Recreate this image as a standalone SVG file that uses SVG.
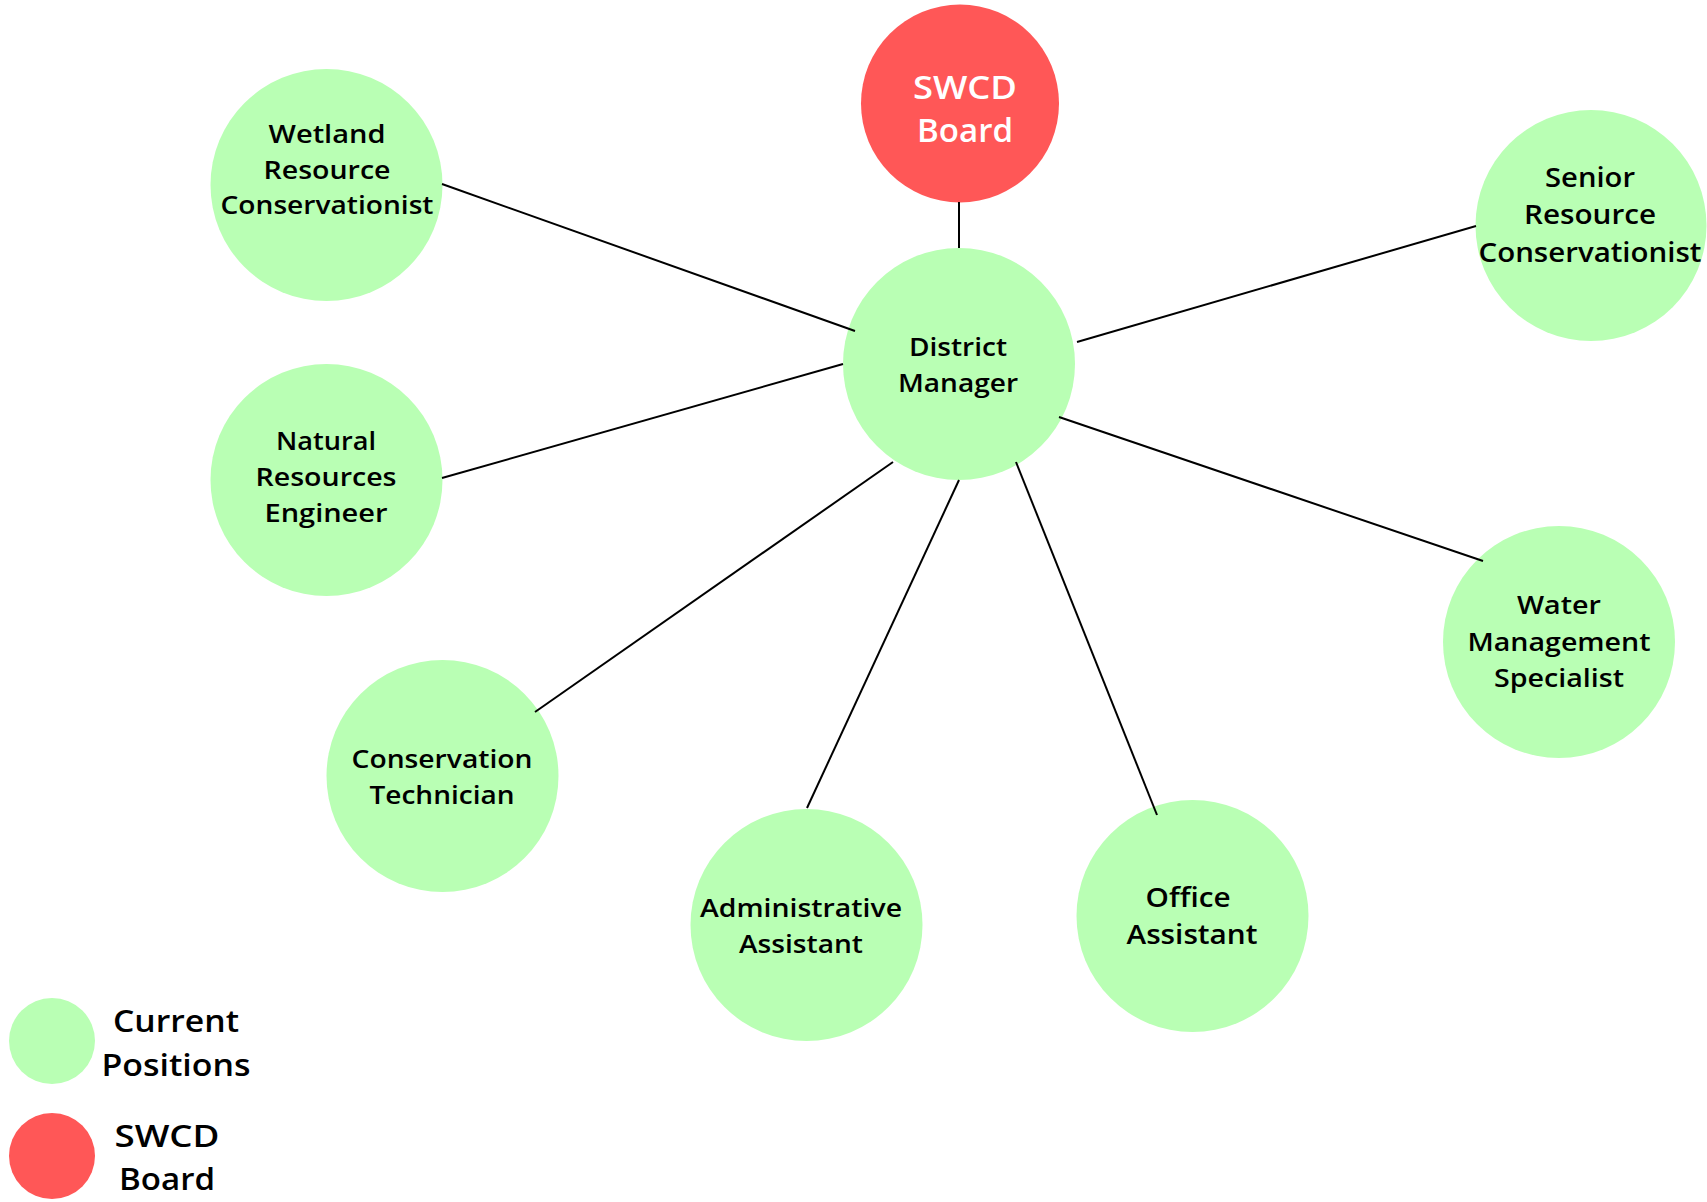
<svg xmlns="http://www.w3.org/2000/svg" width="1707" height="1202" viewBox="0 0 1707 1202">
  <defs>
    <style>
      .pos { fill: #b9ffb4; }
      .board { fill: #ff5757; }
      .lbl { font-family: "Open Sans", "Liberation Sans", sans-serif; font-weight: 600; fill: #000000; text-anchor: middle; }
      .lbl-w { font-family: "Open Sans", "Liberation Sans", sans-serif; font-weight: 600; fill: #ffffff; text-anchor: middle; }
      .link { stroke: #000000; stroke-width: 2; fill: none; }
    </style>
  </defs>
  <rect width="1707" height="1202" fill="#ffffff"/>

  <g id="swcd-board">
    <circle class="board" cx="960" cy="103.5" r="99"/>
    <text class="lbl-w" font-size="32" x="965" y="99" textLength="104" lengthAdjust="spacingAndGlyphs">SWCD</text>
    <text class="lbl-w" font-size="32" x="965" y="142" textLength="96" lengthAdjust="spacingAndGlyphs">Board</text>
  </g>

  <g id="district-manager">
    <circle class="pos" cx="959" cy="364" r="116"/>
    <text class="lbl" font-size="26" x="958" y="356" textLength="98" lengthAdjust="spacingAndGlyphs">District</text>
    <text class="lbl" font-size="26" x="958" y="392" textLength="120" lengthAdjust="spacingAndGlyphs">Manager</text>
  </g>

  <g id="wetland-resource-conservationist">
    <circle class="pos" cx="326.5" cy="185" r="116"/>
    <text class="lbl" font-size="26" x="327" y="143" textLength="117" lengthAdjust="spacingAndGlyphs">Wetland</text>
    <text class="lbl" font-size="26" x="327" y="179" textLength="127" lengthAdjust="spacingAndGlyphs">Resource</text>
    <text class="lbl" font-size="26" x="327" y="214" textLength="213" lengthAdjust="spacingAndGlyphs">Conservationist</text>
  </g>

  <g id="senior-resource-conservationist">
    <circle class="pos" cx="1591" cy="225.5" r="115.5"/>
    <text class="lbl" font-size="27.5" x="1590" y="187" textLength="90" lengthAdjust="spacingAndGlyphs">Senior</text>
    <text class="lbl" font-size="27.5" x="1590" y="224" textLength="132" lengthAdjust="spacingAndGlyphs">Resource</text>
    <text class="lbl" font-size="27.5" x="1590" y="262" textLength="223" lengthAdjust="spacingAndGlyphs">Conservationist</text>
  </g>

  <g id="natural-resources-engineer">
    <circle class="pos" cx="326.5" cy="480" r="116"/>
    <text class="lbl" font-size="26" x="326" y="450" textLength="100" lengthAdjust="spacingAndGlyphs">Natural</text>
    <text class="lbl" font-size="26" x="326" y="486" textLength="141" lengthAdjust="spacingAndGlyphs">Resources</text>
    <text class="lbl" font-size="26" x="326" y="522" textLength="123" lengthAdjust="spacingAndGlyphs">Engineer</text>
  </g>

  <g id="conservation-technician">
    <circle class="pos" cx="442.5" cy="776" r="116"/>
    <text class="lbl" font-size="26" x="442" y="768" textLength="181" lengthAdjust="spacingAndGlyphs">Conservation</text>
    <text class="lbl" font-size="26" x="442" y="804" textLength="145" lengthAdjust="spacingAndGlyphs">Technician</text>
  </g>

  <g id="administrative-assistant">
    <circle class="pos" cx="806.5" cy="925" r="116"/>
    <text class="lbl" font-size="26" x="801" y="917" textLength="202" lengthAdjust="spacingAndGlyphs">Administrative</text>
    <text class="lbl" font-size="26" x="801" y="953" textLength="124" lengthAdjust="spacingAndGlyphs">Assistant</text>
  </g>

  <g id="office-assistant">
    <circle class="pos" cx="1192.5" cy="916" r="116"/>
    <text class="lbl" font-size="27.5" x="1188" y="907" textLength="85" lengthAdjust="spacingAndGlyphs">Office</text>
    <text class="lbl" font-size="27.5" x="1192" y="944" textLength="131" lengthAdjust="spacingAndGlyphs">Assistant</text>
  </g>

  <g id="water-management-specialist">
    <circle class="pos" cx="1559" cy="642" r="116"/>
    <text class="lbl" font-size="26" x="1559" y="614" textLength="84" lengthAdjust="spacingAndGlyphs">Water</text>
    <text class="lbl" font-size="26" x="1559" y="651" textLength="183" lengthAdjust="spacingAndGlyphs">Management</text>
    <text class="lbl" font-size="26" x="1559" y="687" textLength="130" lengthAdjust="spacingAndGlyphs">Specialist</text>
  </g>

  <!-- reporting lines, drawn over the circles -->
  <g id="connectors">
    <line class="link" x1="959" y1="202" x2="959" y2="248"/>
    <line class="link" x1="442" y1="184" x2="855" y2="331"/>
    <line class="link" x1="442" y1="478" x2="843" y2="364"/>
    <line class="link" x1="535" y1="712" x2="893" y2="462"/>
    <line class="link" x1="807" y1="808" x2="959" y2="480"/>
    <line class="link" x1="1157" y1="815" x2="1016" y2="462"/>
    <line class="link" x1="1483" y1="561" x2="1059" y2="417"/>
    <line class="link" x1="1476" y1="226" x2="1077" y2="342"/>
  </g>

  <!-- key -->
  <g id="legend-current">
    <circle class="pos" cx="52" cy="1041" r="43"/>
    <text class="lbl" font-size="31" x="176" y="1032" textLength="126" lengthAdjust="spacingAndGlyphs">Current</text>
    <text class="lbl" font-size="31" x="176" y="1076" textLength="149" lengthAdjust="spacingAndGlyphs">Positions</text>
  </g>
  <g id="legend-board">
    <circle class="board" cx="52" cy="1156" r="43"/>
    <text class="lbl" font-size="31" x="167" y="1147" textLength="105" lengthAdjust="spacingAndGlyphs">SWCD</text>
    <text class="lbl" font-size="31" x="167" y="1190" textLength="96" lengthAdjust="spacingAndGlyphs">Board</text>
  </g>
</svg>
